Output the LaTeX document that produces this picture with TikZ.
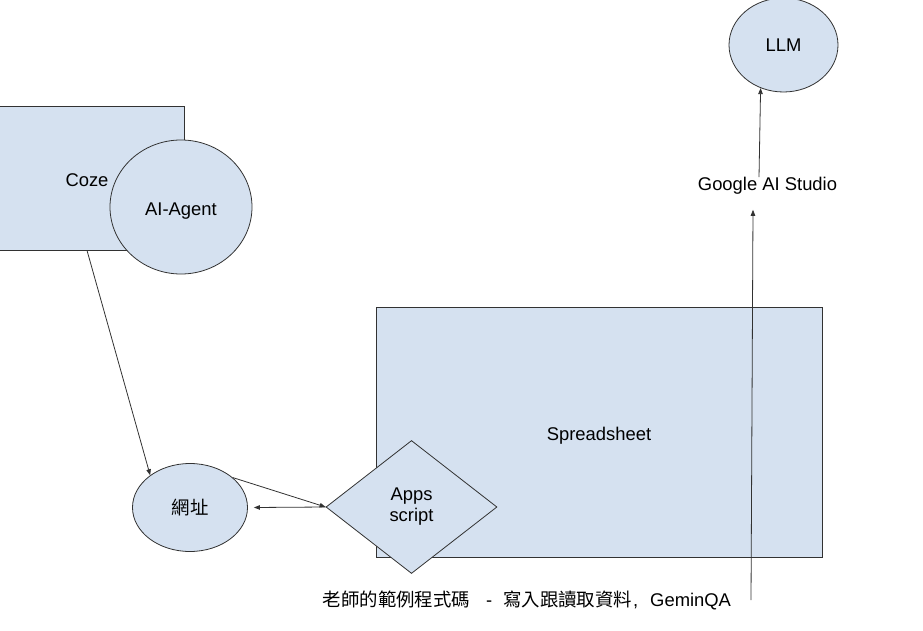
\documentclass[tikz,border=0pt]{standalone}
\usepackage{fontspec}
\setmainfont{Liberation Sans}
\newfontfamily\cjk{Noto Sans CJK TC}
\usetikzlibrary{shapes.geometric,arrows.meta}
\definecolor{boxfill}{RGB}{213,225,240}
\definecolor{edgecol}{RGB}{50,50,50}
\tikzset{
  shapebox/.style={draw=edgecol,fill=boxfill,line width=0.8pt,inner sep=0pt,font=\fontsize{18.4}{21}\selectfont},
  rectbox/.style={shapebox,rectangle},
  ellbox/.style={shapebox,ellipse},
  diabox/.style={shapebox,diamond,align=center},
  lowtext/.style={text height=16pt,text depth=0pt},
  plain/.style={inner sep=0pt,font=\fontsize{18.4}{21}\selectfont},
  conn/.style={draw=edgecol,line width=0.8pt,-{Triangle[length=6pt,width=4.5pt]}},
}
\begin{document}
\begin{tikzpicture}[x=1pt,y=-1pt]
\useasboundingbox (0,0) rectangle (923,631);
\clip (0,0) rectangle (923,631);
% shapes
\node[rectbox,lowtext,minimum width=194,minimum height=144] (coze) at (87,178) {Coze};
\node[ellbox,lowtext,minimum width=142,minimum height=134] (agent) at (181,207) {AI-Agent};
\node[rectbox,lowtext,minimum width=446,minimum height=250] (sheet) at (599,432) {Spreadsheet};
\node[diabox,minimum width=171,minimum height=133] (apps) at (411.5,507) {Apps\\script};
\node[ellbox,minimum width=115,minimum height=88] (url) at (190,507.5) {\cjk 網址};
\node[ellbox,minimum width=109,minimum height=94] (llm) at (783.5,45) {LLM};
\node[plain] (gas) at (767.5,186) {Google AI Studio};
\node[plain] (note) at (527,600) {\cjk 老師的範例程式碼\hspace{16pt}\rmfamily -\hspace{11pt}\cjk 寫入跟讀取資料\rmfamily\hspace{1pt},\hspace{12pt}GeminQA};
\coordinate (noteend) at (751,600);
% connectors
\draw[conn] (coze.south) -- (url.141);
\draw[conn] (url.35) -- (apps.west);
\draw[conn] (apps.west) -- ([xshift=6]url.east);
\draw[conn] ([xshift=-8.5]gas.north) -- (llm.242);
\draw[conn] (noteend) -- ([xshift=-14.5,yshift=-15]gas.south);
\end{tikzpicture}
\end{document}
